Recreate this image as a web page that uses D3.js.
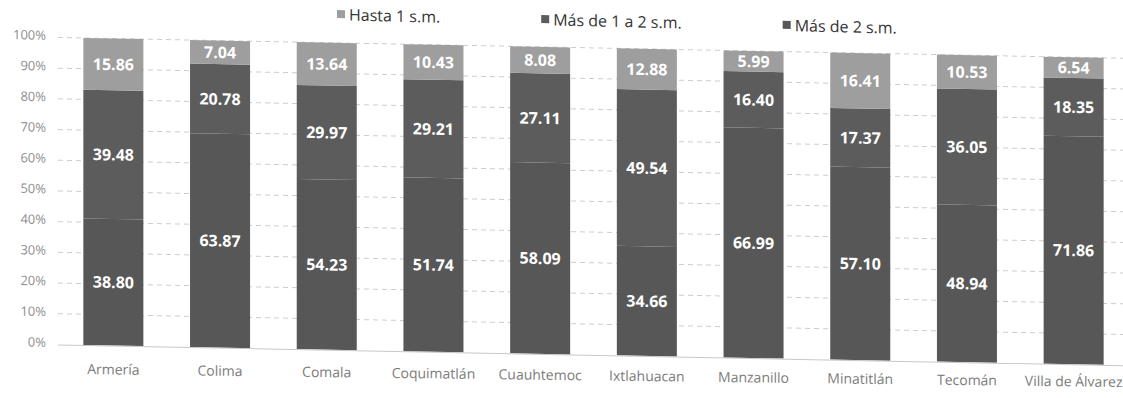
<!DOCTYPE html>
<html>
<head>
<meta charset="utf-8">
<script src="https://cdn.jsdelivr.net/npm/d3@7"></script>
<style>
html,body{margin:0;padding:0;background:#fff;}
svg{display:block;}
</style>
</head>
<body>
<svg id="chart" width="1123" height="398"></svg>
<script>
const categories = ["Armería","Colima","Comala","Coquimatlán","Cuauhtemoc","Ixtlahuacan","Manzanillo","Minatitlán","Tecomán","Villa de Álvarez"];
const seriesNames = ["Hasta 1 s.m.","Más de 1 a 2 s.m.","Más de 2 s.m."];
const hasta1 = [15.86, 7.04, 13.64, 10.43, 8.08, 12.88, 5.99, 16.41, 10.53, 6.54];
const de1a2  = [39.48, 20.78, 29.97, 29.21, 27.11, 49.54, 16.40, 17.37, 36.05, 18.35];
const mas2   = [38.80, 63.87, 54.23, 51.74, 58.09, 34.66, 66.99, 57.10, 48.94, 71.86];
const yTicks = [0,0.1,0.2,0.3,0.4,0.5,0.6,0.7,0.8,0.9,1];

const colors = {"Hasta 1 s.m.":"#9e9e9e","Más de 1 a 2 s.m.":"#5c5c5c","Más de 2 s.m.":"#575757"};

const rows = categories.map((c,i)=>({cat:c,"Hasta 1 s.m.":hasta1[i],"Más de 1 a 2 s.m.":de1a2[i],"Más de 2 s.m.":mas2[i]}));
const stackKeys = ["Más de 2 s.m.","Más de 1 a 2 s.m.","Hasta 1 s.m."];
const stacked = d3.stack().keys(stackKeys).offset(d3.stackOffsetExpand)(rows);

const svg = d3.select("#chart");
svg.append("rect").attr("width",1123).attr("height",398).attr("fill","#fff");

const shear = (k,px)=>`matrix(1,${k},0,1,0,${-k*px})`;
const g = svg.append("g").attr("transform",shear(0.0195,113));

const x = d3.scaleBand().domain(categories).range([60,1127]).paddingInner(0.4375).paddingOuter(0.21875);
const y = d3.scaleLinear().domain([0,1]).range([345.5,38.5]);

// gridlines
g.append("g").selectAll("line").data(yTicks.filter(t=>t>0)).join("line")
  .attr("x1",58).attr("x2",1140)
  .attr("y1",d=>y(d)).attr("y2",d=>y(d))
  .attr("stroke","#cdcdcd").attr("stroke-width",1).attr("stroke-dasharray","5,4");

// y axis labels
const yAxis = d3.axisLeft(y).tickValues(yTicks).tickFormat(d3.format(".0%")).tickSize(0).tickPadding(0);
const ya = g.append("g").attr("transform","translate(46,-2)").call(yAxis);
ya.select(".domain").remove();
ya.selectAll("text").attr("font-family","Open Sans").attr("font-size",13).attr("fill","#8e8e8e");

// bars
const layers = g.append("g").selectAll("g").data(stacked).join("g").attr("fill",d=>colors[d.key]);
layers.selectAll("rect").data(d=>d).join("rect")
  .attr("x",d=>x(d.data.cat)).attr("width",x.bandwidth())
  .attr("y",d=>y(d[1])).attr("height",d=>y(d[0])-y(d[1]));

// baseline
g.append("line").attr("x1",58).attr("x2",1140).attr("y1",y(0)+0.5).attr("y2",y(0)+0.5)
  .attr("stroke","#c8c8c8").attr("stroke-width",1);

// data labels
const lbl = g.append("g");
stacked.forEach(layer=>{
  lbl.selectAll(null).data(layer).join("text")
    .attr("x",d=>x(d.data.cat)+x.bandwidth()/2)
    .attr("y",d=>(y(d[0])+y(d[1]))/2)
    .attr("dy","0.36em")
    .attr("text-anchor","middle")
    .attr("font-family","Open Sans").attr("font-weight","bold").attr("font-size",16)
    .attr("fill","#fff")
    .text(d=>d.data[layer.key].toFixed(2));
});

// x axis labels (own, gentler slope as in the scan)
const gx = svg.append("g").attr("transform",shear(0.0125,113));
const xAxis = d3.axisBottom(x).tickSize(0).tickPadding(0);
const xa = gx.append("g").attr("transform",`translate(0,${y(0)+24})`).call(xAxis);
xa.select(".domain").remove();
xa.selectAll("text").attr("dy","0.35em").attr("font-family","Open Sans").attr("font-size",14).attr("fill","#7c7c7c");

// legend
const leg = svg.append("g").attr("transform",shear(0.024,395));
let lx = 337;
seriesNames.forEach(name=>{
  const it = leg.append("g").attr("transform",`translate(${lx},16)`);
  it.append("rect").attr("x",0).attr("y",-4.5).attr("width",8).attr("height",8).attr("fill",colors[name]);
  const t = it.append("text").attr("x",12).attr("y",0).attr("dy","0.35em")
    .attr("font-family","Open Sans").attr("font-size",16).attr("fill","#333").text(name);
  lx += 12 + t.node().getComputedTextLength() + 101;
});
</script>
</body>
</html>
